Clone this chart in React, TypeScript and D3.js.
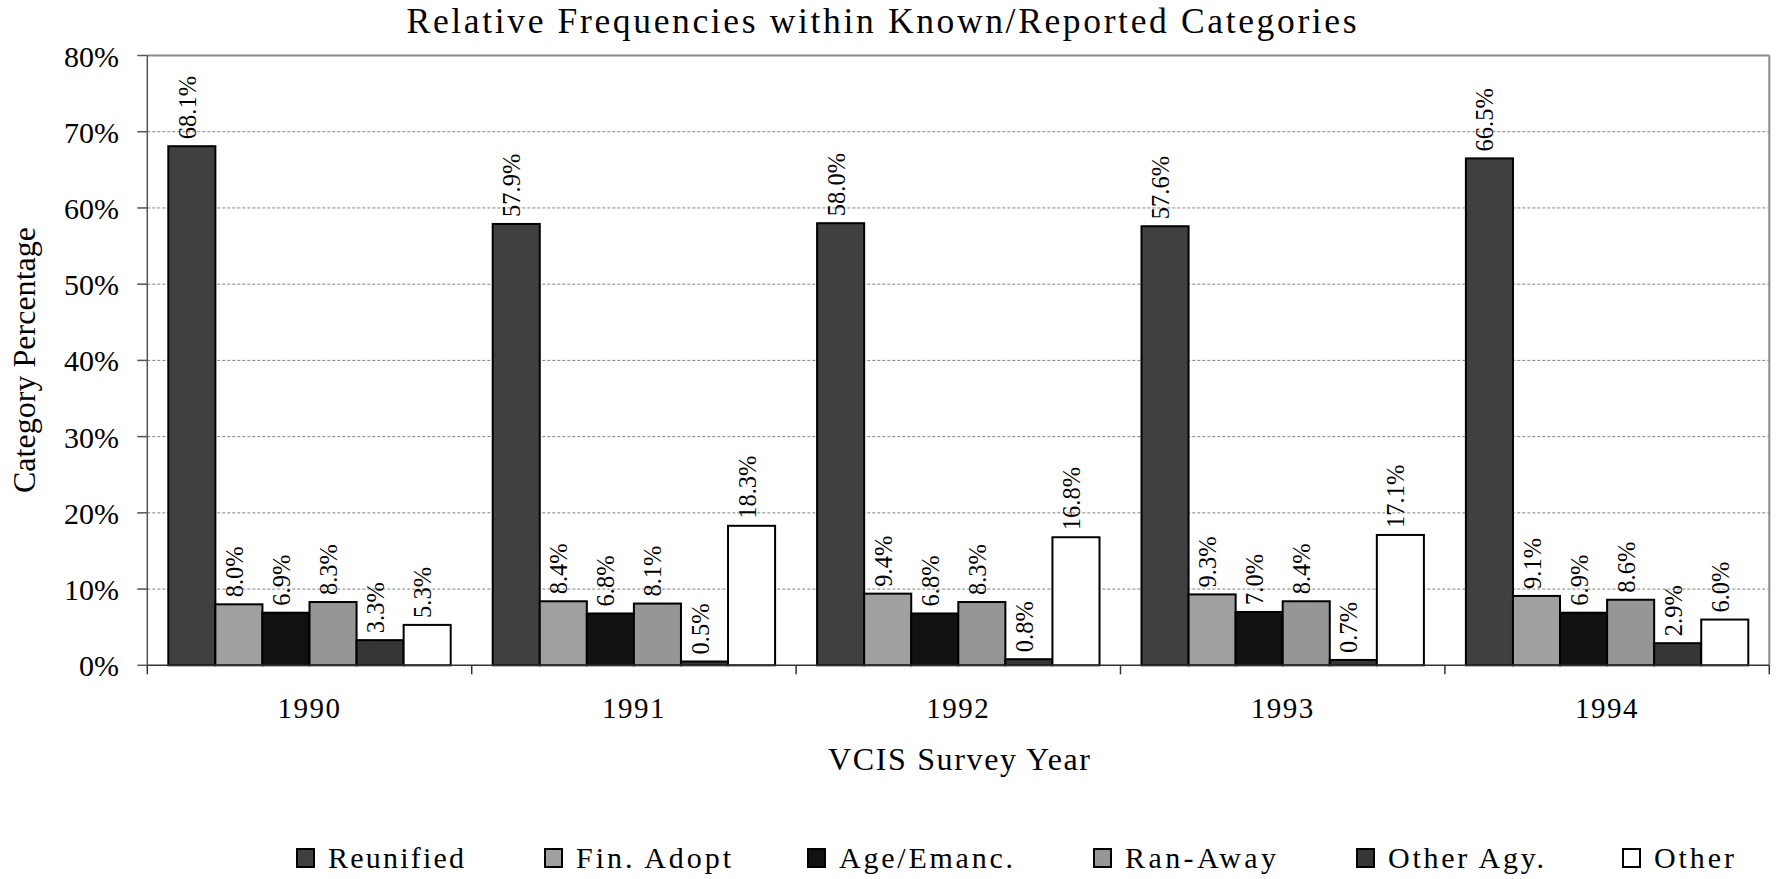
import React from "react";
import * as d3 from "d3";

const years = ["1990", "1991", "1992", "1993", "1994"];
const seriesNames = ["Reunified", "Fin. Adopt", "Age/Emanc.", "Ran-Away", "Other Agy.", "Other"];
const reunified = [68.1, 57.9, 58.0, 57.6, 66.5];
const finAdopt = [8.0, 8.4, 9.4, 9.3, 9.1];
const ageEmanc = [6.9, 6.8, 6.8, 7.0, 6.9];
const ranAway = [8.3, 8.1, 8.3, 8.4, 8.6];
const otherAgy = [3.3, 0.5, 0.8, 0.7, 2.9];
const other = [5.3, 18.3, 16.8, 17.1, 6.0];
const yTicks = [0, 10, 20, 30, 40, 50, 60, 70, 80];

const seriesValues = [reunified, finAdopt, ageEmanc, ranAway, otherAgy, other];
const colors = ["#404040", "#a0a0a0", "#111111", "#969696", "#363636", "#ffffff"];

// legend layout (box x, text length)
const legendBoxX = [297, 545, 808, 1094, 1357, 1623];
const legendTextLen = [136, 155, 174, 151, 156, 80];

const W = 1777;
const H = 879;
const L = 147.3;
const R = 1769.3;
const T = 55.5;
const B = 665.3;
const FONT = "'Liberation Serif', 'Times New Roman', serif";

export default function App() {
  const x0 = d3.scaleBand<string>().domain(years).range([L, R]).paddingInner(0).paddingOuter(0);
  const gw = x0.bandwidth();
  const x1 = d3.scaleBand<string>().domain(seriesNames).range([21, gw - 21]).padding(0);
  const y = d3.scaleLinear().domain([0, 80]).range([B, T]);

  return (
    <svg
      width={W}
      height={H}
      style={{ position: "absolute", left: 0, top: 0, background: "#fff", fontFamily: FONT }}
    >
      <rect x={0} y={0} width={W} height={H} fill="#fff" />
      {/* title */}
      <text x={881.6} y={33} textAnchor="middle" fontSize={35.5} textLength={950} lengthAdjust="spacing" fill="#000">
        Relative Frequencies within Known/Reported Categories
      </text>

      {/* gridlines */}
      {yTicks.filter((t) => t > 0 && t < 80).map((t) => (
        <line key={"g" + t} x1={L} x2={R} y1={y(t)} y2={y(t)} stroke="#808080" strokeWidth={1} strokeDasharray="3 2" />
      ))}
      {/* plot border top/right */}
      <line x1={L} x2={R} y1={T} y2={T} stroke="#8a8a8a" strokeWidth={2} />
      <line x1={R} x2={R} y1={T} y2={B} stroke="#8a8a8a" strokeWidth={2} />

      {/* bars */}
      {years.map((yr, i) => (
        <g key={yr} transform={`translate(${x0(yr)},0)`}>
          {seriesNames.map((s, j) => {
            const v = seriesValues[j][i];
            const bx = x1(s)!;
            return (
              <rect
                key={s}
                x={bx}
                y={y(v)}
                width={x1.bandwidth()}
                height={B - y(v)}
                fill={colors[j]}
                stroke="#000"
                strokeWidth={2}
              />
            );
          })}
        </g>
      ))}

      {/* data labels */}
      {years.map((yr, i) =>
        seriesNames.map((s, j) => {
          const v = seriesValues[j][i];
          const cx = x0(yr)! + x1(s)! + x1.bandwidth() / 2;
          return (
            <text
              key={yr + s}
              transform={`translate(${cx + 4},${y(v) - 7}) rotate(-90)`}
              fontSize={24.5}
              fill="#000"
            >
              {v.toFixed(1) + "%"}
            </text>
          );
        })
      )}

      {/* axes */}
      <line x1={L} x2={L} y1={T} y2={B} stroke="#555" strokeWidth={1.5} />
      <line x1={L} x2={R} y1={B} y2={B} stroke="#333" strokeWidth={1.5} />
      {yTicks.map((t) => (
        <g key={"t" + t}>
          <line x1={L - 10} x2={L} y1={y(t)} y2={y(t)} stroke="#555" strokeWidth={1.5} />
          <text x={119} y={y(t) + 11} textAnchor="end" fontSize={30} fill="#000">
            {t + "%"}
          </text>
        </g>
      ))}
      {[...years.map((yr) => x0(yr)!), R].map((xx, k) => (
        <line key={"xt" + k} x1={xx} x2={xx} y1={B} y2={B + 9} stroke="#333" strokeWidth={1.5} />
      ))}
      {years.map((yr) => (
        <text
          key={"xl" + yr}
          x={x0(yr)! + gw / 2}
          y={718}
          textAnchor="middle"
          fontSize={29}
          letterSpacing={1.5}
          fill="#000"
        >
          {yr}
        </text>
      ))}

      {/* axis titles */}
      <text x={959} y={770} textAnchor="middle" fontSize={32} textLength={262} lengthAdjust="spacing" fill="#000">
        VCIS Survey Year
      </text>
      <text
        transform={`translate(35,360) rotate(-90)`}
        textAnchor="middle"
        fontSize={32}
        textLength={266}
        lengthAdjust="spacing"
        fill="#000"
      >
        Category Percentage
      </text>

      {/* legend */}
      {seriesNames.map((s, j) => (
        <g key={"lg" + s}>
          <rect x={legendBoxX[j]} y={849} width={17} height={18} fill={colors[j]} stroke="#000" strokeWidth={2} />
          <text
            x={legendBoxX[j] + 31}
            y={868}
            fontSize={30}
            textLength={legendTextLen[j]}
            lengthAdjust="spacing"
            fill="#000"
          >
            {s}
          </text>
        </g>
      ))}
    </svg>
  );
}
